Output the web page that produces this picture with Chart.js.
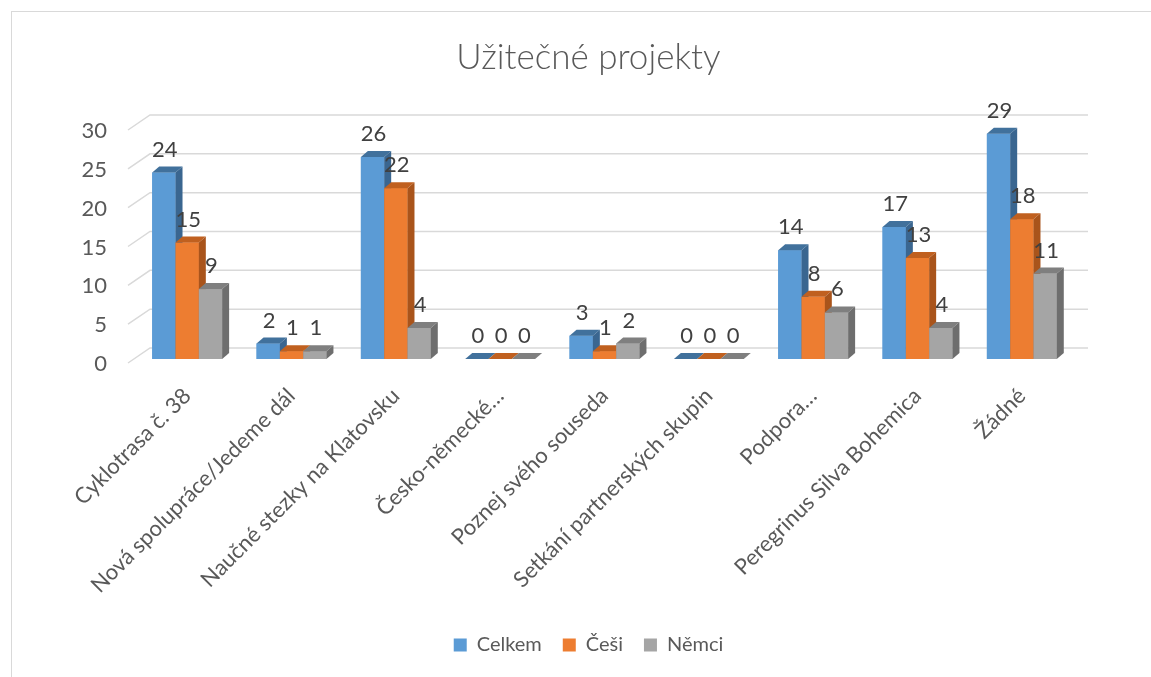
<!DOCTYPE html>
<html>
<head>
<meta charset="utf-8">
<script src="https://cdn.jsdelivr.net/npm/chart.js@4/dist/chart.umd.min.js"></script>
<style>
  html, body { margin: 0; padding: 0; background: #fff; }
  #wrap { position: absolute; left: 0; top: 0; width: 1151px; height: 677px; }
</style>
</head>
<body>
<div id="wrap"><canvas id="chart" width="1151" height="677"></canvas></div>
<script>
const categories = [
  'Cyklotrasa č. 38',
  'Nová spolupráce/Jedeme dál',
  'Naučné stezky na Klatovsku',
  'Česko-německé…',
  'Poznej svého souseda',
  'Setkání partnerských skupin',
  'Podpora…',
  'Peregrinus Silva Bohemica',
  'Žádné'
];
const celkem = [24, 2, 26, 0, 3, 0, 14, 17, 29];
const cesi = [15, 1, 22, 0, 1, 0, 8, 13, 18];
const nemci = [9, 1, 4, 0, 2, 0, 6, 4, 11];
const yTicks = [0, 5, 10, 15, 20, 25, 30];

const FONT = 'Lato, "Noto Sans", sans-serif';
const TEXT = '#595959';

// front / top / side shades for the 3d bars
const shades = [
  ['#5B9BD5', '#41719C', '#3A6690'],
  ['#ED7D31', '#C0601F', '#A9541B'],
  ['#A5A5A5', '#7F7F7F', '#6E6E6E']
];
const DEPTH = 7;

const framePlugin = {
  id: 'frame',
  beforeDraw(chart) {
    const ctx = chart.ctx;
    ctx.save();
    ctx.strokeStyle = '#d9d9d9';
    ctx.lineWidth = 1;
    ctx.strokeRect(11.5, 11.5, 1200, 700);
    ctx.restore();
  }
};

// back-wall gridlines with a short diagonal on the left side
const wallGrid = {
  id: 'wallGrid',
  beforeDatasetsDraw(chart) {
    const { ctx, chartArea, scales } = chart;
    ctx.save();
    ctx.strokeStyle = '#d9d9d9';
    ctx.lineWidth = 1.5;
    yTicks.forEach(v => {
      const y = scales.y.getPixelForValue(v);
      ctx.beginPath();
      ctx.moveTo(chartArea.left - 7, y + 4);
      ctx.lineTo(chartArea.left + 15, y - 11);
      ctx.lineTo(chartArea.right + 14, y - 11);
      ctx.stroke();
    });
    ctx.restore();
  }
};

const bars3d = {
  id: 'bars3d',
  afterDatasetsDraw(chart) {
    const ctx = chart.ctx;
    const metas = chart.data.datasets.map((d, i) => chart.getDatasetMeta(i));
    ctx.save();
    for (let i = 0; i < categories.length; i++) {
      metas.forEach((meta, j) => {
        const el = meta.data[i];
        const l = el.x - el.width / 2, r = el.x + el.width / 2;
        const t = el.y, b = el.base;
        const [front, top, side] = shades[j];
        ctx.fillStyle = front;
        ctx.fillRect(l, t, r - l, b - t);
        ctx.fillStyle = top;
        ctx.beginPath();
        ctx.moveTo(l, t);
        ctx.lineTo(l + DEPTH, t - DEPTH + 1);
        ctx.lineTo(r + DEPTH, t - DEPTH + 1);
        ctx.lineTo(r, t);
        ctx.closePath();
        ctx.fill();
        ctx.fillStyle = side;
        ctx.beginPath();
        ctx.moveTo(r, t);
        ctx.lineTo(r + DEPTH, t - DEPTH + 1);
        ctx.lineTo(r + DEPTH, b - DEPTH + 1);
        ctx.lineTo(r, b);
        ctx.closePath();
        ctx.fill();
      });
    }
    // value labels
    ctx.font = '22px ' + FONT;
    ctx.fillStyle = '#404040';
    ctx.textAlign = 'center';
    ctx.textBaseline = 'middle';
    metas.forEach((meta, j) => {
      meta.data.forEach((el, i) => {
        const v = chart.data.datasets[j].data[i];
        ctx.fillText(String(v), el.x + 1, el.y - 23);
      });
    });
    ctx.restore();
  }
};

new Chart(document.getElementById('chart'), {
  type: 'bar',
  data: {
    labels: categories,
    datasets: [
      { label: 'Celkem', data: celkem, backgroundColor: shades[0][0] },
      { label: 'Češi', data: cesi, backgroundColor: shades[1][0] },
      { label: 'Němci', data: nemci, backgroundColor: shades[2][0] }
    ]
  },
  options: {
    responsive: false,
    animation: false,
    layout: { padding: { left: 26, right: 0, top: 0, bottom: 12 } },
    datasets: { bar: { categoryPercentage: 0.67, barPercentage: 1 } },
    scales: {
      x: {
        grid: { display: false },
        border: { display: false },
        ticks: {
          color: TEXT,
          font: { family: FONT, size: 22 },
          minRotation: 45,
          maxRotation: 45,
          autoSkip: false,
          padding: 16
        },
        afterFit(scale) { scale.height = 255; }
      },
      y: {
        min: 0,
        max: 30,
        grid: { display: false },
        border: { display: false },
        afterBuildTicks(scale) { scale.ticks = yTicks.map(v => ({ value: v })); },
        ticks: {
          color: TEXT,
          font: { family: FONT, size: 22 },
          padding: 20,
          labelOffset: 5
        },
        afterFit(scale) { scale.width = 109; }
      },
      // empty right-hand strip so the title and legend sit where the original has them
      yr: {
        position: 'right',
        grid: { display: false },
        border: { display: false },
        ticks: { display: false },
        afterFit(scale) { scale.width = 77; }
      }
    },
    plugins: {
      title: {
        display: true,
        text: 'Užitečné projekty',
        color: TEXT,
        font: { family: FONT, size: 35, weight: '300' },
        padding: { top: 37, bottom: 47 }
      },
      legend: {
        position: 'bottom',
        labels: {
          color: TEXT,
          font: { family: FONT, size: 20 },
          boxWidth: 13,
          boxHeight: 13,
          padding: 21
        }
      },
      tooltip: { enabled: false }
    }
  },
  plugins: [framePlugin, wallGrid, bars3d]
});
</script>
</body>
</html>
